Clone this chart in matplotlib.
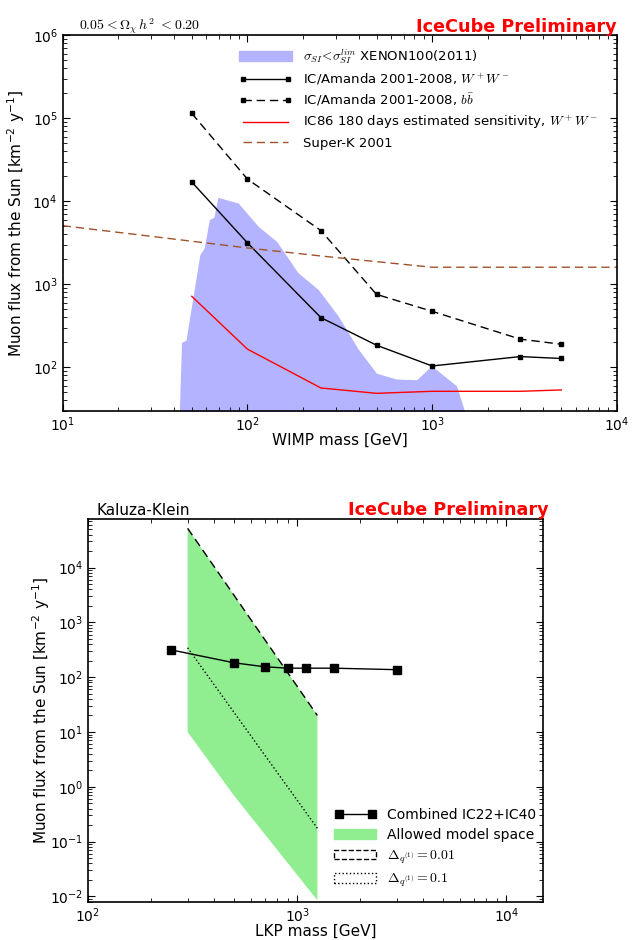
import matplotlib
matplotlib.use("Agg")
import matplotlib.pyplot as plt
from matplotlib.patches import Patch
from matplotlib.lines import Line2D
import numpy as np

# ---- top panel: WIMP ----
wimp_mass = [50, 100, 250, 500, 1000, 3000, 5000]
ww_flux = [17100, 3170, 398, 185, 104, 135, 128]
bb_flux = [115000, 18600, 4450, 758, 474, 219, 190]
ic86_flux = [718, 166, 56.5, 48.7, 51.5, 51.5, 53.5]

superk_mass = [10, 30, 100, 250, 500, 1000, 10000]
superk_flux = [5100, 3800, 2750, 2200, 1880, 1610, 1610]

xenon_mass = [42.8, 44.0, 46.5, 55.3, 58.4, 62.2, 65.9, 69.2, 89.2, 114.5, 143.9,
              188, 241.7, 310, 398, 500, 641, 824, 993, 1355, 1503]
xenon_flux = [29, 200, 213, 2290, 2760, 6030, 6500, 11200, 9560, 5000, 3300,
              1380, 870, 417, 166, 85, 72.4, 71, 104.5, 60, 29]

# ---- bottom panel: Kaluza-Klein ----
lkp_mass = [250, 500, 700, 900, 1100, 1500, 3000]
lkp_flux = [315, 183, 155, 146, 146, 146, 137]

band_upper_mass = [300, 1250]
band_upper_flux = [52000, 20]          # Delta = 0.01
band_lower_mass = [1250, 500, 300]
band_lower_flux = [0.0085, 0.69, 10]
delta01_mass = [300, 1250]
delta01_flux = [343, 0.175]            # Delta = 0.1

plt.rcParams['font.family'] = ['DejaVu Sans']

fig = plt.figure(figsize=(6.32, 9.4), dpi=100)
ax1 = fig.add_axes([0.0992, 0.563, 0.8768, 0.3993])
ax2 = fig.add_axes([0.1388, 0.0407, 0.7209, 0.4072])

DASH = (6, 3.5)


def style(ax):
    ax.set_xscale('log')
    ax.set_yscale('log')
    ax.tick_params(which='both', direction='in', top=True, right=True, labelsize=10)
    ax.tick_params(which='major', length=5)
    ax.tick_params(which='minor', length=3)
    for s in ax.spines.values():
        s.set_linewidth(1.2)


# top
style(ax1)
ax1.fill_between(xenon_mass, 1, xenon_flux, color=(0.7, 0.7, 1.0), lw=0)
ax1.plot(wimp_mass, ww_flux, 'k-s', ms=3, lw=1)
ax1.plot(wimp_mass, bb_flux, 'k--s', ms=3, lw=1, dashes=DASH)
ax1.plot(wimp_mass, ic86_flux, 'r-', lw=1)
ax1.plot(superk_mass, superk_flux, '--', color='sienna', lw=1, dashes=DASH)
ax1.set_xlim(10, 1e4)
ax1.set_ylim(30, 1e6)
ax1.set_xlabel('WIMP mass [GeV]', fontsize=11, labelpad=-1)
ax1.set_ylabel(r'Muon flux from the Sun [km$^{-2}$ y$^{-1}$]', fontsize=11)
ax1.yaxis.set_label_coords(-0.064, 0.5)

h1 = [Patch(color=(0.7, 0.7, 1.0)),
      Line2D([], [], color='k', ls='-', marker='s', ms=3, lw=1),
      Line2D([], [], color='k', ls='--', marker='s', ms=3, lw=1, dashes=DASH),
      Line2D([], [], color='r', lw=1),
      Line2D([], [], color='sienna', ls='--', lw=1, dashes=DASH)]
l1 = [r'$\sigma_{SI}\!<\!\sigma_{SI}^{lim}$ XENON100(2011)',
      r'IC/Amanda 2001-2008, $W^+W^-$',
      r'IC/Amanda 2001-2008, $b\bar{b}$',
      r'IC86 180 days estimated sensitivity, $W^+W^-$',
      'Super-K 2001']
leg1 = ax1.legend(h1, l1, loc='upper right', frameon=False, fontsize=9.5,
                  numpoints=2, handlelength=4, labelspacing=0.4,
                  bbox_to_anchor=(0.987, 1.0))
for t in leg1.get_texts():
    t.set_math_fontfamily('cm')

fig.text(0.125, 0.969, r'$0.05<\Omega_\chi\,h^2\ <0.20$', fontsize=10,
         math_fontfamily='cm', va='baseline')
fig.text(0.976, 0.966, 'IceCube Preliminary', color='red', fontsize=12.7,
         fontweight='bold', ha='right', va='baseline')

# bottom
style(ax2)
ax2.fill(band_upper_mass + band_lower_mass, band_upper_flux + band_lower_flux,
         color='#90ee90', lw=0)
ax2.plot(band_upper_mass, band_upper_flux, 'k--', lw=1, dashes=DASH)
ax2.plot(delta01_mass, delta01_flux, 'k:', lw=1)
ax2.plot(lkp_mass, lkp_flux, 'k-s', ms=5.5, lw=1)
ax2.set_xlim(100, 1.5e4)
ax2.set_ylim(0.008, 7.7e4)
ax2.set_xlabel('LKP mass [GeV]', fontsize=11, labelpad=-1)
ax2.set_ylabel(r'Muon flux from the Sun [km$^{-2}$ y$^{-1}$]', fontsize=11)
ax2.yaxis.set_label_coords(-0.079, 0.5)

h2 = [Line2D([], [], color='k', ls='-', marker='s', ms=5.5, lw=1),
      Patch(color='#90ee90'),
      Patch(facecolor='none', edgecolor='k', ls='--'),
      Patch(facecolor='none', edgecolor='k', ls=':')]
l2 = ['Combined IC22+IC40', 'Allowed model space',
      r'$\mathbf{\Delta}_{q^{(1)}}=0.01$', r'$\mathbf{\Delta}_{q^{(1)}}=0.1$']
leg2 = ax2.legend(h2, l2, loc='lower right', frameon=False, fontsize=10,
                  numpoints=2, handlelength=3, labelspacing=0.45,
                  borderaxespad=0.5, bbox_to_anchor=(1.012, 0.0))
for t in leg2.get_texts():
    t.set_math_fontfamily('cm')

fig.text(0.153, 0.452, 'Kaluza-Klein', fontsize=11, va='baseline')
fig.text(0.868, 0.452, 'IceCube Preliminary', color='red', fontsize=12.7,
         fontweight='bold', ha='right', va='baseline')

fig.savefig('out.png', dpi=100)
